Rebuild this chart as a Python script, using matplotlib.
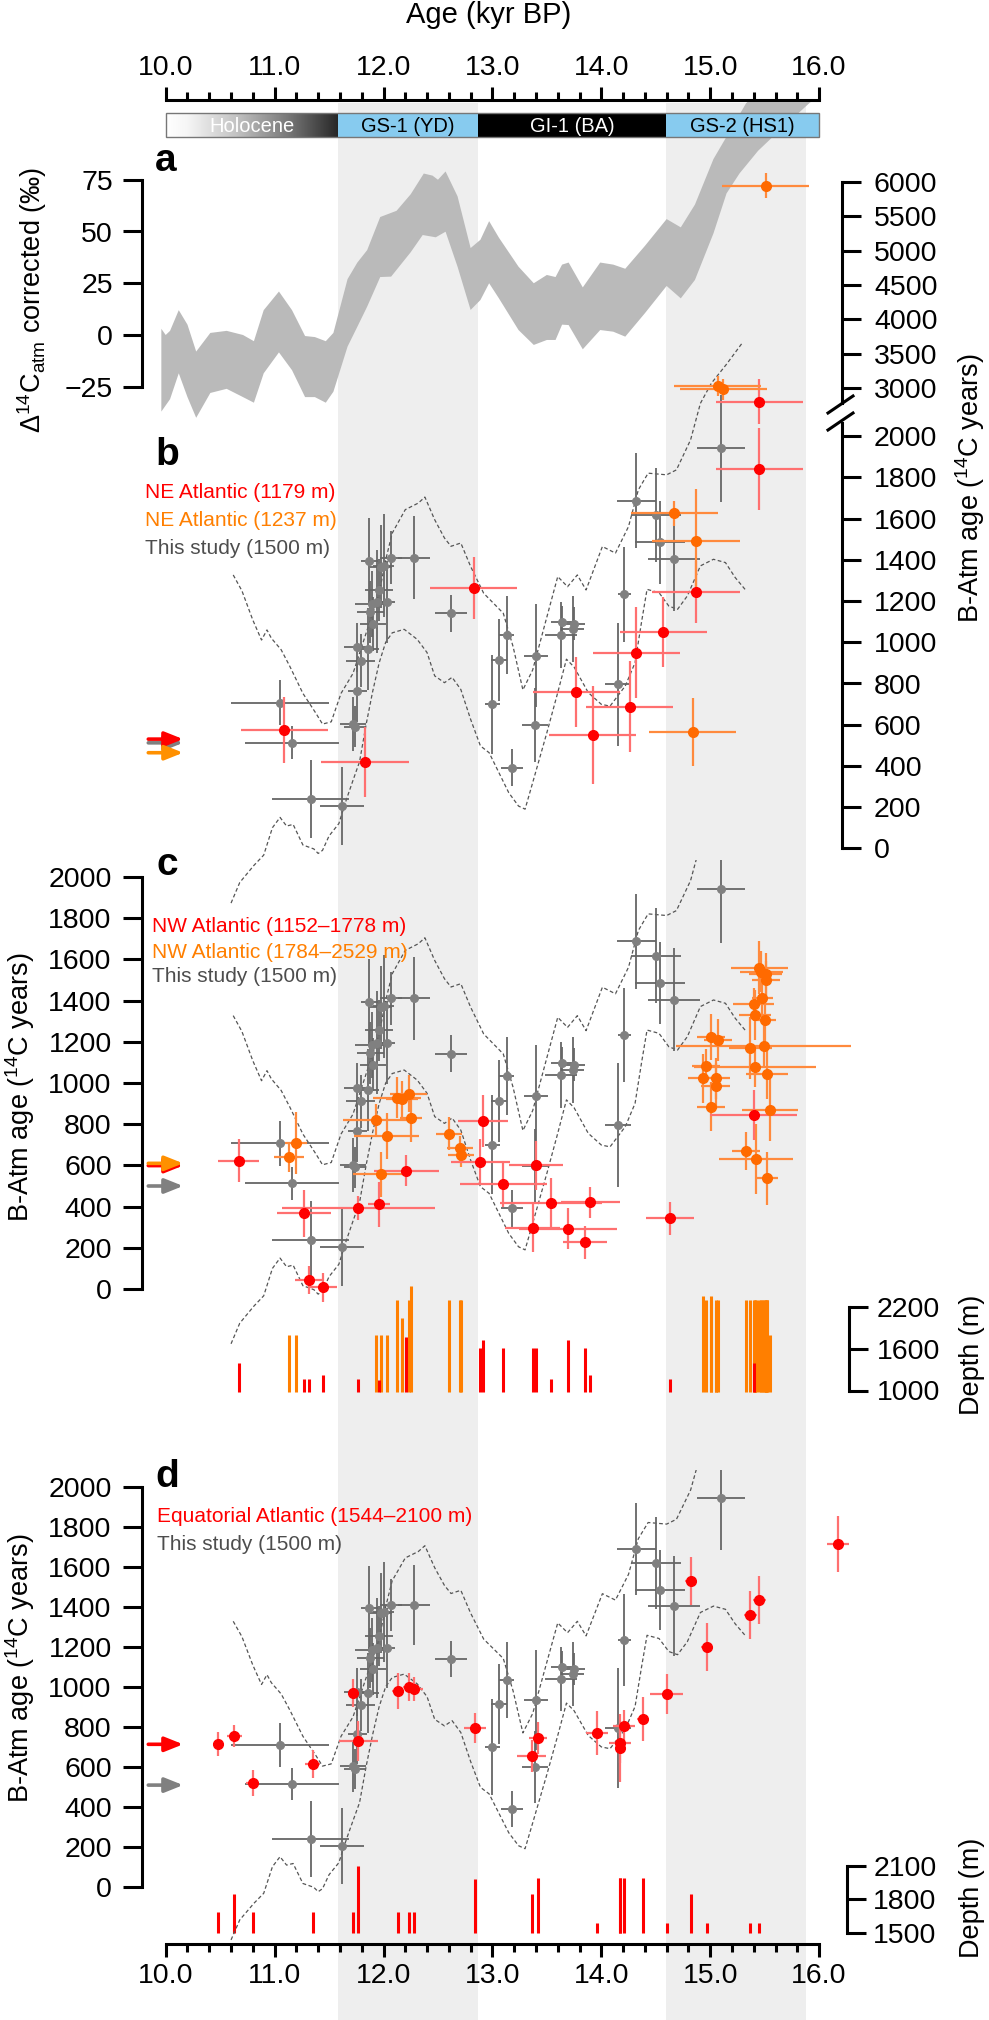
import matplotlib
matplotlib.use("Agg")
import matplotlib.pyplot as plt
import numpy as np
from matplotlib.colors import LinearSegmentedColormap
from matplotlib.patches import Rectangle

plt.rcParams['font.family'] = ['Liberation Sans', 'DejaVu Sans']
plt.rcParams['mathtext.fontset'] = 'custom'
plt.rcParams['mathtext.rm'] = 'Liberation Sans'
plt.rcParams['mathtext.it'] = 'Liberation Sans:italic'

# ---------------- data ----------------
# climate periods (kyr BP)
periods = ['Holocene', 'GS-1 (YD)', 'GI-1 (BA)', 'GS-2 (HS1)']
period_start = [10.0, 11.58, 12.87, 14.59]
period_end = [11.58, 12.87, 14.59, 16.0]
stadial_start = [11.58, 14.59]
stadial_end = [12.87, 15.88]

# panel a: atmospheric D14C band (upper / lower edge)
a_up_age = [9.96, 10.00, 10.04, 10.12, 10.20, 10.28, 10.41, 10.56, 10.71, 10.81, 10.90,
            11.04, 11.16, 11.28, 11.37, 11.47, 11.54, 11.67, 11.76, 11.85, 11.97, 12.12,
            12.25, 12.37, 12.45, 12.50, 12.57, 12.68, 12.80, 12.89, 12.97, 13.06, 13.24,
            13.38, 13.50, 13.58, 13.64, 13.70, 13.83, 13.99, 14.11, 14.22, 14.40, 14.60,
            14.73, 14.86, 15.03, 15.13, 15.33, 15.60]
a_up = [3, 0, 2, 12, 5, -8, 1, 2, 0, -3, 12, 21, 12, -0.5, -1, -3, 1, 27, 35, 41, 57, 60,
        68, 78, 77, 75, 79, 67, 42, 46, 55, 47, 33, 25, 29, 28, 34, 35, 23, 35, 34, 32, 43,
        56, 52, 63, 85, 94, 112, 125]
a_lo_age = [9.96, 10.04, 10.12, 10.20, 10.28, 10.41, 10.56, 10.71, 10.81, 10.90, 11.04,
            11.16, 11.28, 11.37, 11.47, 11.54, 11.67, 11.76, 11.85, 11.97, 12.07, 12.25,
            12.36, 12.48, 12.57, 12.68, 12.80, 12.89, 12.97, 13.06, 13.24, 13.38, 13.50,
            13.58, 13.64, 13.70, 13.83, 13.99, 14.11, 14.22, 14.40, 14.60, 14.73, 14.86,
            15.03, 15.15, 15.27, 15.44, 15.60, 15.91, 16.05]
a_lo = [-37, -31, -18.5, -30, -40, -28, -26, -30, -32.7, -18.5, -8.4, -17, -30, -30, -32.7,
        -27.4, -5.6, 4, 13.7, 28, 28.2, 40, 48.3, 47.2, 49.9, 33, 12.1, 16.9, 25, 17.7, 2.4,
        -4.8, -2.4, -2.4, 5, 4.8, -6.9, 2.4, 1.6, -0.8, 10.5, 23.7, 17.7, 26.6, 49.1, 68.4,
        78.1, 89, 97, 112, 118]

# this study (1500 m), shared by panels b-d
gray_age = [11.05, 11.16, 11.33, 11.62, 11.72, 11.74, 11.76, 11.79, 11.76, 11.86, 11.87,
            11.88, 11.89, 11.90, 11.94, 11.96, 11.98, 12.00, 12.03, 12.07, 12.28, 12.62,
            13.00, 13.06, 13.13, 13.18, 13.39, 13.40, 13.63, 13.64, 13.74, 13.75, 14.15,
            14.21, 14.32, 14.50, 14.54, 14.67, 15.10]
gray_val = [707, 513, 239, 205, 603, 590, 765, 911, 976, 967, 1393, 1146, 1185, 1089, 1196,
            1255, 1367, 1372, 1196, 1411, 1411, 1141, 700, 914, 1034, 391, 597, 935, 1037,
            1097, 1063, 1089, 796, 1233, 1687, 1618, 1485, 1404, 1942]
gray_xerr = [0.45, 0.43, 0.35, 0.2, 0.12, 0.1, 0.09, 0.13, 0.12, 0.1, 0.08, 0.12, 0.15, 0.12,
             0.08, 0.13, 0.1, 0.1, 0.08, 0.1, 0.15, 0.15, 0.07, 0.07, 0.07, 0.1, 0.12, 0.11,
             0.15, 0.1, 0.1, 0.1, 0.12, 0.06, 0.18, 0.23, 0.23, 0.24, 0.22]
gray_yerr = [110, 80, 190, 190, 130, 100, 150, 130, 120, 200, 210, 150, 160, 130, 250, 150,
             200, 250, 200, 130, 200, 90, 240, 200, 190, 90, 180, 250, 160, 80, 160, 80, 300,
             230, 230, 230, 200, 250, 260]

# model envelope (dashed)
env_up_age = [10.62, 10.70, 10.80, 10.88, 10.93, 10.97, 11.06, 11.14, 11.26, 11.38, 11.44,
              11.52, 11.61, 11.72, 11.84, 11.96, 12.02, 12.08, 12.20, 12.32, 12.38, 12.47,
              12.56, 12.62, 12.71, 12.80, 12.92, 13.10, 13.19, 13.28, 13.37, 13.46, 13.60,
              13.69, 13.78, 13.86, 14.01, 14.13, 14.25, 14.34, 14.43, 14.60, 14.69, 14.82,
              14.91, 15.01, 15.15, 15.29]
env_up = [1327, 1250, 1108, 1011, 1060, 1020, 964, 883, 752, 655, 603, 614, 752, 849, 1044,
          1238, 1400, 1530, 1644, 1676, 1705, 1595, 1506, 1466, 1482, 1368, 1238, 1141, 979,
          769, 866, 1044, 1319, 1270, 1327, 1254, 1465, 1433, 1562, 1740, 1821, 1813, 1837,
          1983, 2160, 2257, 2350, 2450]
env_lo_age = [10.60, 10.68, 10.81, 10.90, 10.98, 11.05, 11.11, 11.17, 11.26, 11.36, 11.40,
              11.44, 11.50, 11.59, 11.66, 11.72, 11.78, 11.84, 11.90, 11.96, 12.02, 12.08,
              12.19, 12.31, 12.40, 12.47, 12.56, 12.63, 12.71, 12.80, 12.89, 12.97, 13.06,
              13.15, 13.24, 13.30, 13.37, 13.50, 13.60, 13.68, 13.75, 13.88, 14.00, 14.08,
              14.22, 14.31, 14.37, 14.42, 14.53, 14.62, 14.70, 14.79, 14.91, 15.03, 15.14,
              15.23, 15.32]
env_lo = [-266, -166, -83, -33, 100, 150, 108, 116, 16, -3, -25, -10, 60, 120, 238, 330,
          420, 600, 760, 900, 1000, 1046, 1063, 1014, 950, 837, 804, 830, 771, 626, 497,
          464, 367, 270, 205, 190, 319, 561, 756, 918, 880, 756, 699, 690, 788, 901, 1100,
          1257, 1241, 1176, 1160, 1225, 1371, 1403, 1387, 1314, 1257]

# panel b: NE Atlantic
b_red_age = [11.09, 11.83, 12.83, 13.77, 13.92, 14.26, 14.32, 14.57, 14.87, 15.45]
b_red_val = [574, 417, 1262, 760, 550, 688, 950, 1050, 1244, 1841]
b_red_yerr = [160, 170, 150, 170, 240, 220, 220, 170, 150, 200]
b_red_hi_age = [15.45]
b_red_hi_val = [2805]
b_red_hi_yerr = [330]
b_or_age = [14.67, 14.87, 14.84]
b_or_val = [1626, 1493, 566]
b_or_yerr = [60, 250, 165]
b_or_hi_age = [15.51, 15.07, 15.12]
b_or_hi_val = [5945, 3033, 2985]
b_or_hi_yerr = [180, 150, 150]
b_xerr = 0.4
b_arrow_val = [512, 530, 464]          # gray, red, orange

# panel c: NW Atlantic
c_red_age = [10.67, 11.27, 11.32, 11.44, 11.77, 11.96, 12.21, 12.91, 12.89, 13.10, 13.37,
             13.40, 13.54, 13.69, 13.85, 13.90, 14.63, 15.40]
c_red_val = [623, 367, 44, 8, 393, 411, 574, 816, 618, 508, 298, 600, 419, 292, 227, 422,
             343, 845]
c_red_xerr = [0.19, 0.25, 0.13, 0.13, 0.7, 0.1, 0.3, 0.23, 0.27, 0.4, 0.25, 0.25, 0.47,
              0.45, 0.2, 0.27, 0.22, 0.4]
c_red_yerr = [105, 115, 70, 70, 60, 110, 75, 125, 110, 110, 120, 120, 120, 100, 80, 75, 80,
              120]
c_red_depth = [1400, 1170, 1170, 1217, 1170, 1150, 1770, 1720, 1606, 1606, 1606, 1606, 1170,
               1720, 1606, 1217, 1170, 1393]
c_or_age = [11.20, 11.13, 11.93, 12.03, 11.98, 12.12, 12.17, 12.23, 12.25, 12.60, 12.70,
            12.71, 14.93, 14.96, 15.01, 15.07, 15.05, 15.05, 15.01, 15.45, 15.47, 15.51,
            15.51, 15.48, 15.40, 15.41, 15.50, 15.37, 15.49, 15.41, 15.52, 15.55, 15.33,
            15.42, 15.52]
c_or_val = [707, 639, 819, 743, 557, 929, 921, 948, 832, 754, 683, 650, 1023, 1084, 1223,
            1209, 1023, 985, 885, 1560, 1540, 1500, 1529, 1413, 1383, 1330, 1306, 1171, 1181,
            1079, 1042, 869, 670, 630, 537]
c_or_xerr = [0.1, 0.14, 0.3, 0.3, 0.26, 0.22, 0.15, 0.17, 0.1, 0.12, 0.12, 0.12, 0.13, 0.13,
             0.13, 0.13, 0.13, 0.13, 0.13, 0.26, 0.2, 0.13, 0.15, 0.1, 0.19, 0.15, 0.1, 0.2,
             0.8, 0.56, 0.19, 0.26, 0.13, 0.34, 0.1]
c_or_yerr = [150, 70, 80, 110, 110, 100, 90, 90, 120, 80, 60, 60, 120, 80, 110, 100, 100,
             110, 120, 130, 100, 90, 100, 110, 80, 120, 100, 150, 100, 100, 120, 150, 90,
             170, 130]
c_or_depth = [1790, 1790, 1790, 1790, 1790, 2300, 2040, 2300, 2500, 2300, 2300, 2300, 2350,
              2300, 2300, 2300, 2200, 2300, 2350, 2300, 2300, 2300, 1790, 2300, 2300, 1790,
              2300, 2300, 2300, 2300, 2300, 1790, 2300, 2300, 2300]
c_arrow_val = [500, 599, 610]          # gray, red, orange

# panel d: Equatorial Atlantic
d_red_age = [10.48, 10.63, 10.80, 11.35, 11.72, 11.77, 12.13, 12.23, 12.28, 12.84, 13.36,
             13.42, 13.96, 14.17, 14.17, 14.21, 14.38, 14.60, 14.82, 14.97, 15.37, 15.45,
             16.17]
d_red_val = [712, 753, 517, 615, 971, 729, 980, 1000, 988, 793, 656, 745, 767, 720, 693, 806,
             839, 963, 1528, 1200, 1359, 1434, 1713]
d_red_xerr = [0.05, 0.07, 0.06, 0.07, 0.04, 0.18, 0.05, 0.05, 0.08, 0.1, 0.13, 0.08, 0.1,
              0.1, 0.04, 0.1, 0.05, 0.15, 0.05, 0.05, 0.06, 0.06, 0.1]
d_red_yerr = [60, 55, 65, 70, 70, 100, 90, 70, 60, 75, 80, 80, 110, 100, 170, 80, 110, 100,
              120, 120, 120, 120, 140]
d_red_depth = [1692, 1852, 1692, 1692, 1692, 2100, 1692, 1692, 1692, 1982, 1852, 1996, 1587,
               1996, 1996, 1996, 1996, 1587, 1852, 1587, 1587, 1587, 1700]
d_arrow_val = [508, 712]               # gray, red

# ---------------- layout helpers ----------------
W, H = 989, 2020
fig = plt.figure(figsize=(W / 100, H / 100), dpi=100)

PX10, PPK = 165.7, 108.9            # pixel of 10.0 kyr, pixels per kyr
XLO, XHI = 9.6, 16.6


def age_px(a):
    return PX10 + (a - 10) * PPK


def new_axes(top, bot, xlim=(XLO, XHI)):
    l, r = age_px(xlim[0]), age_px(xlim[1])
    ax = fig.add_axes([l / W, 1 - bot / H, (r - l) / W, (bot - top) / H])
    ax.set_xlim(*xlim)
    ax.patch.set_alpha(0)
    for s in ax.spines.values():
        s.set_visible(False)
    ax.set_xticks([])
    ax.set_yticks([])
    return ax


def set_ymap(ax, top, bot, ref_val, ref_px, ppu):
    ax.set_ylim(ref_val - (bot - ref_px) / ppu, ref_val + (ref_px - top) / ppu)


def yaxis(ax, side, pos, lo, hi, ticks, pad):
    sp = ax.spines[side]
    sp.set_visible(True)
    sp.set_position(('data', pos))
    sp.set_bounds(lo, hi)
    sp.set_linewidth(2.2)
    ax.set_yticks(ticks)
    if side == 'right':
        ax.yaxis.tick_right()
    ax.tick_params(axis='y', direction='out', length=14, width=2.2, labelsize=20.5, pad=pad)


def ftext(px, py, s, **kw):
    fig.text(px / W, 1 - py / H, s, **kw)


TXT = 20.5
RED, ORANGE, GRAY = '#ff0000', '#ff6a00', '#808080'


def draw_gray(ax):
    ax.plot(env_up_age, env_up, ls=(0, (3, 2)), color='#555555', lw=0.9)
    ax.plot(env_lo_age, env_lo, ls=(0, (3, 2)), color='#555555', lw=0.9)
    ax.errorbar(gray_age, gray_val, xerr=gray_xerr, yerr=gray_yerr, fmt='o', ms=5.5,
                color=GRAY, ecolor='#666666', elinewidth=1.3, capsize=0)


def pts(ax, x, y, xe, ye, c, ec):
    ax.errorbar(x, y, xerr=xe, yerr=ye, fmt='o', ms=7, color=c, ecolor=ec,
                elinewidth=1.6, capsize=0, zorder=4)


def arrows(ax, vals, cols):
    for v, c in zip(vals, cols):
        ax.annotate('', xy=(10.16, v), xytext=(9.84, v),
                    arrowprops=dict(arrowstyle='-|>,head_length=0.55,head_width=0.22',
                                    color=c, lw=2.6, mutation_scale=20,
                                    shrinkA=0, shrinkB=0))


# ---------------- background: stadial bands ----------------
bg = new_axes(0, H)
bg.set_ylim(H, 0)
for s0, s1 in zip(stadial_start, stadial_end):
    bg.add_patch(Rectangle((s0, 103), s1 - s0, H - 103, color='#eeeeee', lw=0))

# ---------------- frame: top and bottom age axes ----------------
fr = fig.add_axes([PX10 / W, 1 - 1944 / H, 6 * PPK / W, (1944 - 100) / H])
fr.patch.set_alpha(0)
fr.set_xlim(10, 16)
fr.set_yticks([])
fr.spines['left'].set_visible(False)
fr.spines['right'].set_visible(False)
fr.spines['top'].set_linewidth(2.2)
fr.spines['bottom'].set_linewidth(2.2)
fr.set_xticks(np.arange(10, 16.01, 1.0))
fr.set_xticks(np.arange(10, 16.01, 0.2), minor=True)
fr.set_xticklabels(['%.1f' % v for v in np.arange(10, 16.01, 1.0)])
fr.tick_params(axis='x', which='both', top=True, bottom=True, labeltop=True,
               labelbottom=True, direction='out', width=2.2, labelsize=TXT)
fr.tick_params(axis='x', which='major', length=9.5, pad=4)
fr.tick_params(axis='x', which='minor', length=5.8)
ftext(489, 15, 'Age (kyr BP)', ha='center', va='center', fontsize=21)

# ---------------- panel a ----------------
ax_a = new_axes(102, 440)
set_ymap(ax_a, 102, 440, 0, 335, 2.07)
ax_a.fill(np.r_[a_up_age, a_lo_age[::-1]], np.r_[a_up, a_lo[::-1]], color='#bababa', lw=0)
yaxis(ax_a, 'left', 9.785, -25, 75, [-25, 0, 25, 50, 75], 7)
ftext(166, 171, 'a', fontsize=28, fontweight='bold', ha='center', va='baseline')
ftext(32, 300, r'$\Delta^{14}$C$_{\mathrm{atm}}$ corrected (‰)', rotation=90,
      ha='center', va='center', fontsize=19.5)

# ---------------- timeline bar (drawn above the band) ----------------
tl = new_axes(0, H)
tl.set_ylim(H, 0)
holo = LinearSegmentedColormap.from_list(
    'holo', [(0, '#ffffff'), (0.12, '#f6f6f6'), (0.4, '#c4c4c4'), (0.7, '#7a7a7a'),
             (1, '#262626')])
tl.imshow(np.linspace(0, 1, 256)[None, :], extent=[period_start[0], period_end[0], 137, 113],
          cmap=holo, aspect='auto', zorder=3)
bar_cols = [None, '#87cbef', '#000000', '#87cbef']
txt_cols = ['#ffffff', '#000000', '#ffffff', '#000000']
for name, s0, s1, bc, tc in zip(periods, period_start, period_end, bar_cols, txt_cols):
    if bc is not None:
        tl.add_patch(Rectangle((s0, 113), s1 - s0, 24, color=bc, lw=0, zorder=3))
    tl.text((s0 + s1) / 2, 126, name, ha='center', va='center', color=tc,
            fontsize=14.5, zorder=5)
tl.add_patch(Rectangle((period_start[0], 113), period_end[-1] - period_start[0], 24,
                       fill=False, ec='#777777', lw=1, zorder=4))
tl.set_xlim(XLO, XHI)
tl.set_ylim(H, 0)

# ---------------- panel b ----------------
ax_b = new_axes(102, 910)
set_ymap(ax_b, 102, 910, 0, 848.3, 0.206)
ax_bu = new_axes(102, 910)
set_ymap(ax_bu, 102, 910, 3000, 388.3, 0.0688)
draw_gray(ax_b)
pts(ax_b, b_red_age, b_red_val, b_xerr, b_red_yerr, RED, '#ff7070')
pts(ax_b, b_or_age, b_or_val, b_xerr, b_or_yerr, ORANGE, '#ff8a3d')
pts(ax_bu, b_red_hi_age, b_red_hi_val, b_xerr, b_red_hi_yerr, RED, '#ff7070')
pts(ax_bu, b_or_hi_age, b_or_hi_val, b_xerr, b_or_hi_yerr, ORANGE, '#ff8a3d')
arrows(ax_b, b_arrow_val, [GRAY, RED, '#ff9000'])
yaxis(ax_b, 'right', 16.21, 0, 2064, np.arange(0, 2001, 200), 9)
yaxis(ax_bu, 'right', 16.21, 2790, 6000, np.arange(3000, 6001, 500), 9)
ov = fig.add_axes([0, 0, 1, 1])
ov.set_xlim(0, W)
ov.set_ylim(H, 0)
ov.axis('off')
ov.plot([828, 853], [413, 396], color='black', lw=2.2)
ov.plot([828, 853], [430, 413], color='black', lw=2.2)
ftext(167, 465, 'b', fontsize=28, fontweight='bold', ha='center', va='baseline')
ftext(145, 493, 'NE Atlantic (1179 m)', color=RED, fontsize=15, va='center')
ftext(145, 520, 'NE Atlantic (1237 m)', color='#ff7f00', fontsize=15, va='center')
ftext(145, 548, 'This study (1500 m)', color='#4d4d4d', fontsize=15, va='center')
ftext(970, 488, r'B-Atm age ($^{14}$C years)', rotation=90, ha='center', va='center',
      fontsize=19.5)

# ---------------- panel c ----------------
ax_cd = new_axes(860, 1400)
set_ymap(ax_cd, 860, 1400, 1000, 1390.5, 0.06975)
ax_cd.vlines(c_or_age, 980, c_or_depth, color='#ff7f00', lw=2.2)
ax_cd.vlines(c_red_age, 980, c_red_depth, color=RED, lw=2.2)
yaxis(ax_cd, 'right', 16.277, 1000, 2200, [1000, 1600, 2200], 6)
ax_c = new_axes(860, 1400)
set_ymap(ax_c, 860, 1400, 0, 1289, 0.206)
draw_gray(ax_c)
pts(ax_c, c_or_age, c_or_val, c_or_xerr, c_or_yerr, ORANGE, '#ff8a3d')
pts(ax_c, c_red_age, c_red_val, c_red_xerr, c_red_yerr, RED, '#ff7070')
arrows(ax_c, c_arrow_val, [GRAY, RED, '#ff9000'])
yaxis(ax_c, 'left', 9.785, 0, 2000, np.arange(0, 2001, 200), 8)
ftext(167, 875, 'c', fontsize=28, fontweight='bold', ha='center', va='baseline')
ftext(152, 927, 'NW Atlantic (1152–1778 m)', color=RED, fontsize=15, va='center')
ftext(152, 952, 'NW Atlantic (1784–2529 m)', color='#ff7f00', fontsize=15, va='center')
ftext(152, 977, 'This study (1500 m)', color='#4d4d4d', fontsize=15, va='center')
ftext(20, 1087, r'B-Atm age ($^{14}$C years)', rotation=90, ha='center', va='center',
      fontsize=19.5)
ftext(972, 1355, 'Depth (m)', rotation=90, ha='center', va='center', fontsize=19.5)

# ---------------- panel d ----------------
ax_dd = new_axes(1470, 1944)
set_ymap(ax_dd, 1470, 1944, 1500, 1933, 0.1117)
d_in = np.array(d_red_age) <= 16
ax_dd.vlines(np.array(d_red_age)[d_in], 1500, np.array(d_red_depth)[d_in], color=RED, lw=2.2)
yaxis(ax_dd, 'right', 16.256, 1500, 2100, [1500, 1800, 2100], 5)
ax_d = new_axes(1470, 1944)
set_ymap(ax_d, 1470, 1944, 0, 1886.7, 0.2)
draw_gray(ax_d)
pts(ax_d, d_red_age, d_red_val, d_red_xerr, d_red_yerr, RED, '#ff7070')
arrows(ax_d, d_arrow_val, [GRAY, RED])
yaxis(ax_d, 'left', 9.785, 0, 2000, np.arange(0, 2001, 200), 8)
ftext(167, 1487, 'd', fontsize=28, fontweight='bold', ha='center', va='baseline')
ftext(157, 1517, 'Equatorial Atlantic (1544–2100 m)', color=RED, fontsize=15, va='center')
ftext(157, 1545, 'This study (1500 m)', color='#4d4d4d', fontsize=15, va='center')
ftext(20, 1668, r'B-Atm age ($^{14}$C years)', rotation=90, ha='center', va='center',
      fontsize=19.5)
ftext(972, 1898, 'Depth (m)', rotation=90, ha='center', va='center', fontsize=19.5)

fig.savefig('out.png', dpi=100)
